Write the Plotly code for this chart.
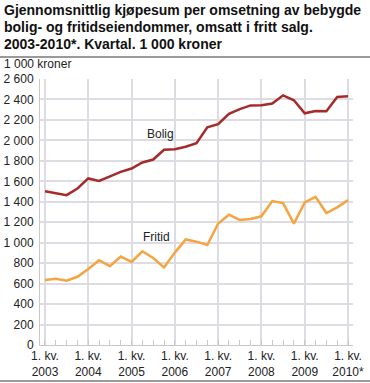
import plotly.graph_objects as go

quarters = ["2003K1","2003K2","2003K3","2003K4","2004K1","2004K2","2004K3","2004K4",
            "2005K1","2005K2","2005K3","2005K4","2006K1","2006K2","2006K3","2006K4",
            "2007K1","2007K2","2007K3","2007K4","2008K1","2008K2","2008K3","2008K4",
            "2009K1","2009K2","2009K3","2009K4","2010K1"]
bolig = [1502, 1485, 1465, 1530, 1628, 1604, 1650, 1692, 1725, 1784, 1813, 1908,
         1914, 1938, 1973, 2128, 2158, 2260, 2305, 2342, 2343, 2360, 2440, 2392,
         2265, 2288, 2285, 2425, 2432]
fritid = [635, 648, 628, 667, 742, 829, 771, 864, 812, 916, 851, 758,
          903, 1032, 1010, 977, 1187, 1274, 1223, 1232, 1258, 1407, 1387, 1187,
          1393, 1448, 1290, 1345, 1416]
tick_labels = ["1. kv.<br>2003", "1. kv.<br>2004", "1. kv.<br>2005", "1. kv.<br>2006",
               "1. kv.<br>2007", "1. kv.<br>2008", "1. kv.<br>2009", "1. kv.<br>2010*"]
series_names = ["Bolig", "Fritid"]
title_lines = ["Gjennomsnittlig kjøpesum per omsetning av bebygde",
               "bolig- og fritidseiendommer, omsatt i fritt salg.",
               "2003-2010*. Kvartal. 1 000 kroner"]

x = list(range(len(quarters)))
fig = go.Figure()
fig.add_trace(go.Scatter(x=x, y=bolig, mode="lines", name=series_names[0],
                         line=dict(color="#a52b2a", width=2.5)))
fig.add_trace(go.Scatter(x=x, y=fritid, mode="lines", name=series_names[1],
                         line=dict(color="#f5a442", width=2.5)))

font = "Liberation Sans, Arial, sans-serif"
PW, PH, TOP = 313, 266, 79
fig.update_layout(
    width=370, height=383,
    margin=dict(l=40, r=17, t=79, b=38, autoexpand=False),
    paper_bgcolor="white", plot_bgcolor="white",
    showlegend=False,
    separators=", ",
    font=dict(family=font, size=12, color="#222"),
    xaxis=dict(range=[-0.46, 28.46], tickvals=x[::4], ticktext=tick_labels,
               showgrid=True, gridcolor="#dcdce2", gridwidth=1.5,
               ticks="", showline=True, linecolor="#c8c8c8", linewidth=1,
               minor=dict(tickvals=x, ticks="inside", ticklen=5, tickcolor="#c8c8c8", showgrid=False),
               tickfont=dict(size=12, color="#222"), zeroline=False, fixedrange=True,
               ticklabelstandoff=0),
    yaxis=dict(range=[0, 2600], dtick=200, tickformat=",d",
               showgrid=True, gridcolor="#dcdce2", gridwidth=1.5,
               showline=True, linecolor="#c8c8c8", linewidth=1,
               ticks="", tickfont=dict(size=12, color="#222"), zeroline=False,
               ticklabelstandoff=3, fixedrange=True),
)

for i, line in enumerate(title_lines):
    ypx = 10 + 17 * i
    fig.add_annotation(text="<b>" + line + "</b>",
                       xref="paper", yref="paper", x=-38/PW, y=1 + (TOP - ypx)/PH,
                       xanchor="left", yanchor="middle", align="left", showarrow=False,
                       font=dict(family=font, size=14, color="#111"))
fig.add_annotation(text="1 000 kroner", xref="paper", yref="paper", x=-38/PW, y=1+15/PH,
                   xanchor="left", yanchor="middle", showarrow=False,
                   font=dict(size=12, color="#222", family=font))
fig.add_annotation(text=series_names[0], x=10.7, y=2058, showarrow=False,
                   font=dict(size=12, color="#222", family=font))
fig.add_annotation(text=series_names[1], x=10.26, y=1051, showarrow=False,
                   font=dict(size=12, color="#222", family=font))

fig.add_shape(type="line", xref="paper", yref="paper", x0=-40/PW, x1=1+17/PW,
              y0=1+22/PH, y1=1+22/PH, line=dict(color="#9a9a9a", width=2))
fig.add_shape(type="line", xref="paper", yref="paper", x0=-40/PW, x1=1+17/PW,
              y0=-36/PH, y1=-36/PH, line=dict(color="#9a9a9a", width=2))

fig.write_html("out.html", config={"displayModeBar": False},
               post_script="document.body.style.margin='0';document.body.style.overflow='hidden';")
